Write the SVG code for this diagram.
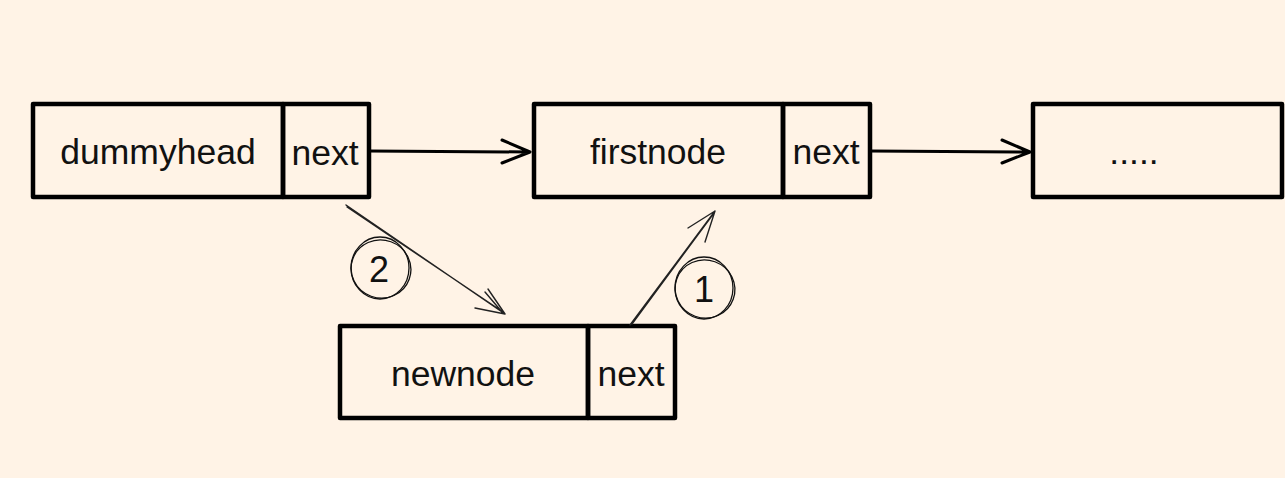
<svg xmlns="http://www.w3.org/2000/svg" width="1285" height="478" viewBox="0 0 1285 478">
<defs>
<style>
.box{fill:none;stroke:#000;stroke-width:4.5;stroke-linejoin:round;stroke-linecap:round}
.t{font-family:"Liberation Sans",Arial,sans-serif;font-size:35.5px;fill:#111;text-anchor:middle}
.n{font-family:"Liberation Sans",Arial,sans-serif;font-size:36px;fill:#111;text-anchor:middle}
.thick{fill:none;stroke:#000;stroke-width:3;stroke-linecap:round;stroke-linejoin:round}
.thin{fill:none;stroke:#222;stroke-width:1.4;stroke-linecap:round;stroke-linejoin:round}
.circ{fill:none;stroke:#111;stroke-width:1.3}
</style>
</defs>
<rect width="1285" height="478" fill="#fff3e6"/>
<g id="dummyhead">
<rect class="box" x="33" y="104" width="250" height="93"/>
<rect class="box" x="283" y="104" width="86" height="93"/>
<text class="t" x="158" y="164">dummyhead</text>
<text class="t" x="325" y="165">next</text>
</g>
<g id="firstnode">
<rect class="box" x="534" y="104" width="249" height="93"/>
<rect class="box" x="783" y="104" width="87" height="93"/>
<text class="t" x="658" y="164">firstnode</text>
<text class="t" x="826" y="164">next</text>
</g>
<g id="rest">
<rect class="box" x="1033" y="104" width="249" height="93"/>
<text class="t" x="1134" y="164">.....</text>
</g>
<g id="newnode">
<rect class="box" x="340" y="326" width="248" height="92"/>
<rect class="box" x="588" y="326" width="87" height="92"/>
<text class="t" x="463" y="386">newnode</text>
<text class="t" x="631" y="386">next</text>
</g>
<g id="connectors">
<path class="thick" d="M369 151 L530 152 M502 140 L530 152 L502 163"/>
<path class="thick" d="M870 151 L1030 152 M1002 140 L1030 152 L1002 163"/>
<path class="thin" d="M346 205 L505 314 M347 207 L503 312 M488 289 L505 314 L475 308 M485 292 L502 312"/>
<path class="thin" d="M630 325 L715 211 M632 324 L714 213 M688 228 L715 211 L705 242"/>
</g>
<g id="label2">
<ellipse class="circ" cx="380" cy="268" rx="29" ry="31"/>
<ellipse class="circ" cx="381" cy="269" rx="30" ry="29" transform="rotate(20 381 269)"/>
<text class="n" x="379" y="282">2</text>
</g>
<g id="label1">
<ellipse class="circ" cx="704" cy="288" rx="29" ry="31"/>
<ellipse class="circ" cx="705" cy="289" rx="30" ry="29" transform="rotate(20 705 289)"/>
<text class="n" x="704" y="302">1</text>
</g>
</svg>
